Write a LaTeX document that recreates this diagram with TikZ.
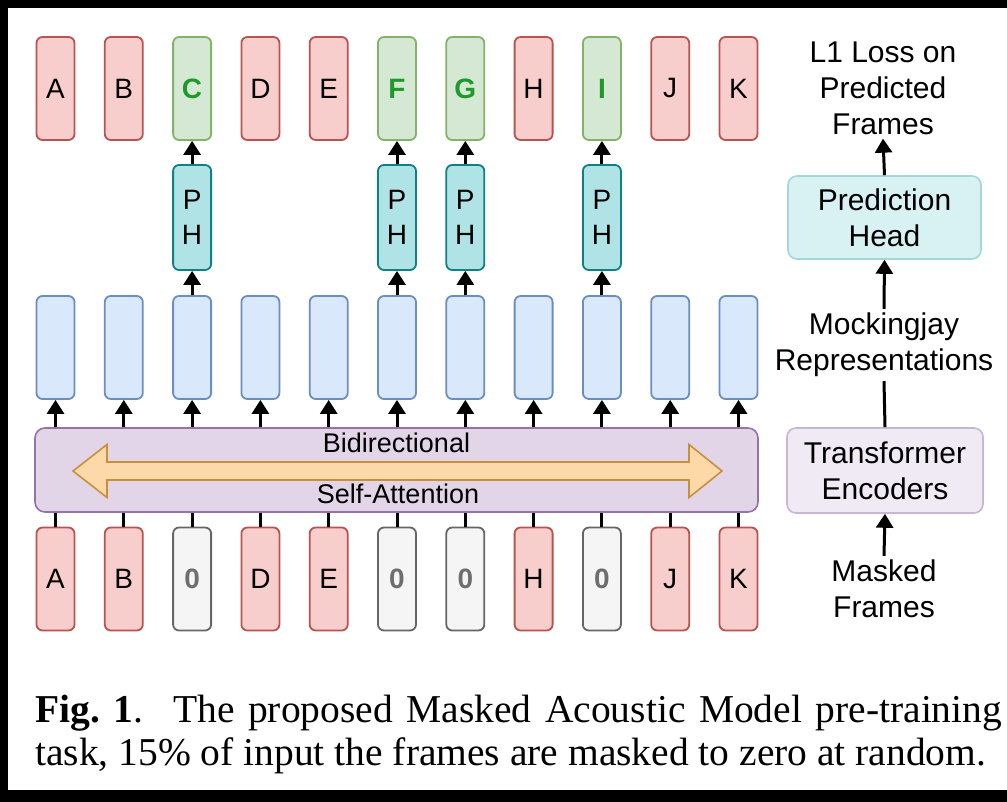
\documentclass[tikz,border=0pt]{standalone}
\usepackage{fontspec}
\setmainfont{Liberation Sans}
\newfontfamily\capfont{Liberation Serif}
\usetikzlibrary{arrows.meta}

\definecolor{redfill}{HTML}{F8CECC}
\definecolor{redline}{HTML}{B85450}
\definecolor{grnfill}{HTML}{D5E8D4}
\definecolor{grnline}{HTML}{82B366}
\definecolor{grntext}{HTML}{1F9A2A}
\definecolor{bluefill}{HTML}{DAE8FC}
\definecolor{blueline}{HTML}{6C8EBF}
\definecolor{tealfill}{HTML}{B0E3E6}
\definecolor{tealline}{HTML}{0E8088}
\definecolor{grayfill}{HTML}{F5F5F5}
\definecolor{grayline}{HTML}{666666}
\definecolor{graytext}{HTML}{6E6E6E}
\definecolor{purfill}{HTML}{E1D5E7}
\definecolor{purline}{HTML}{9673A6}
\definecolor{orgfill}{HTML}{FDD9A9}
\definecolor{orgline}{HTML}{C8903A}
\definecolor{lteal}{HTML}{D8F1F2}
\definecolor{ltealline}{HTML}{A6D6D9}
\definecolor{lpur}{HTML}{F0EAF4}
\definecolor{lpurline}{HTML}{C8B6D2}

\tikzset{
  frame/.style={rounded corners=6pt, line width=1.8pt, minimum width=38pt,
    minimum height=103pt, inner sep=0pt, align=center,
    font=\fontsize{28}{35}\selectfont},
  boxr/.style={frame, fill=redfill, draw=redline},
  boxg/.style={frame, fill=grnfill, draw=grnline, text=grntext, font=\fontsize{28}{35}\selectfont\bfseries},
  boxz/.style={frame, fill=grayfill, draw=grayline, text=graytext, font=\fontsize{28}{35}\selectfont\bfseries},
  boxb/.style={frame, fill=bluefill, draw=blueline},
  boxph/.style={frame, fill=tealfill, draw=tealline, minimum height=105pt},
  up/.style={-{Triangle[length=14pt,width=17pt]}, line width=3pt},
  link/.style={line width=3pt},
  lbl/.style={align=center, inner sep=4pt, font=\fontsize{30}{36}\selectfont},
  sidebox/.style={rounded corners=9pt, line width=1.6pt, align=center, inner sep=0pt,
    font=\fontsize{30}{36}\selectfont},
  captext/.style={anchor=base west, inner sep=0pt, font=\capfont\fontsize{39.5}{43}\selectfont},
}

\begin{document}
\begin{tikzpicture}[x=1pt, y=-1pt]
  % page and frame
  \fill[black] (0,0) rectangle (1007,802);
  \fill[white] (8,8) rectangle (1007,790);
  \useasboundingbox (0,0) rectangle (1007,802);

  % encoder block with the bidirectional arrow
  \node[rounded corners=10pt, line width=1.6pt, fill=purfill, draw=purline,
        minimum width=723pt, minimum height=84pt, inner sep=0pt] (enc) at (396.5,470) {};
  \draw[line width=1.6pt, fill=orgfill, draw=orgline, line join=miter]
    (73,471) -- (107,444.5) -- (107,462) -- (689,462) -- (689,444.5) -- (722,471)
    -- (689,497.5) -- (689,480) -- (107,480) -- (107,497.5) -- cycle;
  \node[font=\fontsize{27}{32}\selectfont] (bidi) at (396.5,443) {Bidirectional};
  \node[font=\fontsize{27}{32}\selectfont] (self) at (398,494) {Self-Attention};

  % frame columns
  \foreach \i/\t/\k in {0/A/r,1/B/r,2/C/g,3/D/r,4/E/r,5/F/g,6/G/g,7/H/r,8/I/g,9/J/r,10/K/r}{
    \node[box\k] (top\i) at ({55.5+68.3*\i},88.5) {\t};
    \node[boxb] (rep\i) at ({55.5+68.3*\i},347.5) {};
    \draw[up] (enc.north -| rep\i.south) -- (rep\i.south);
  }
  \foreach \i/\t/\k in {0/A/r,1/B/r,2/0/z,3/D/r,4/E/r,5/0/z,6/0/z,7/H/r,8/0/z,9/J/r,10/K/r}{
    \node[box\k] (in\i) at ({55.5+68.3*\i},579) {\t};
    \draw[link] (in\i.north) -- (enc.south -| in\i.north);
  }
  % prediction heads on the masked positions
  \foreach \i in {2,5,6,8}{
    \node[boxph] (ph\i) at ({55.5+68.3*\i},217.5) {P\\H};
    \draw[up] (rep\i.north) -- (ph\i.south);
    \draw[up] (ph\i.north) -- (top\i.south);
  }

  % legend column
  \node[lbl] (loss) at (883,88) {L1 Loss on\\Predicted\\Frames};
  \node[sidebox, fill=lteal, draw=ltealline, minimum width=193pt, minimum height=83pt]
    (phead) at (884.5,217.5) {Prediction\\Head};
  \node[lbl] (mock) at (884,345) {Mockingjay\\Representations};
  \node[sidebox, fill=lpur, draw=lpurline, minimum width=196pt, minimum height=85pt]
    (tenc) at (885,470.5) {Transformer\\Encoders};
  \node[lbl] (mask) at (884,589) {Masked\\Frames};
  \draw[up] (phead.north) -- (loss.south);
  \draw[up] (mock.north) -- (phead.south);
  \draw[link] (tenc.north) -- (mock.south);
  \draw[up] (mask.north) -- (tenc.south);

  % caption
  \node[captext] (cap1) at (35,722)
    {\makebox[967pt][s]{\textbf{Fig.~1}.\hspace{0.15em} The proposed Masked Acoustic Model pre-training}};
  \node[captext] (cap2) at (35,765)
    {task, 15\% of input the frames are masked to zero at random.};
\end{tikzpicture}
\end{document}
